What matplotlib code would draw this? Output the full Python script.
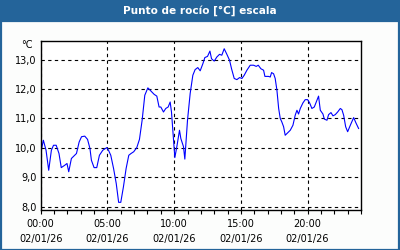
"""Dew point chart for one day."""

import matplotlib

matplotlib.use("Agg")
import matplotlib.pyplot as plt
from matplotlib.patches import Rectangle
from matplotlib.ticker import FuncFormatter, MultipleLocator

TITLE = "Punto de rocío [°C] escala"
UNIT = "°C"
DATE = "02/01/26"
FRAME_BLUE = "#24649a"

# hours since 00:00 and dew point in °C
hours = [
    0.0, 0.2, 0.4, 0.6, 0.8, 0.96, 1.16, 1.37, 1.54, 1.8, 1.97, 2.1, 2.3, 2.55,
    2.68, 2.88, 3.06, 3.3, 3.51, 3.69, 3.8, 4.0, 4.2, 4.4, 4.65, 4.95, 5.08,
    5.25, 5.46, 5.66, 5.84, 6.0, 6.2, 6.4, 6.6, 6.77, 6.97, 7.2, 7.4, 7.6, 7.8,
    8.03, 8.2, 8.5, 8.7, 8.87, 9.0, 9.2, 9.37, 9.55, 9.7, 9.8, 9.95, 10.05,
    10.2, 10.4, 10.5, 10.7, 10.8, 11.0, 11.2, 11.4, 11.57, 11.77, 11.95, 12.15,
    12.3, 12.5, 12.68, 12.8, 13.0, 13.2, 13.4, 13.57, 13.75, 13.95, 14.15, 14.3,
    14.5, 14.7, 14.9, 15.08, 15.25, 15.45, 15.7, 15.95, 16.15, 16.3, 16.5,
    16.7, 16.8, 17.07, 17.2, 17.3, 17.45, 17.57, 17.7, 17.83, 17.95, 18.07,
    18.2, 18.32, 18.5, 18.7, 18.9, 19.07, 19.2, 19.32, 19.45, 19.65, 19.82,
    20.0, 20.15, 20.32, 20.5, 20.7, 20.82, 20.95, 21.15, 21.25, 21.45, 21.57,
    21.75, 21.9, 22.07, 22.25, 22.45, 22.57, 22.7, 22.85, 23.0, 23.2, 23.45,
    23.62, 23.82,
]
dew_point = [
    9.83, 10.26, 9.92, 9.24, 9.92, 10.09, 10.09, 9.81, 9.33, 9.41, 9.47, 9.19,
    9.64, 9.75, 9.81, 10.2, 10.38, 10.4, 10.29, 9.98, 9.58, 9.33, 9.33, 9.75,
    9.92, 10.01, 9.92, 9.75, 9.3, 8.79, 8.15, 8.15, 8.68, 9.3, 9.75, 9.81,
    9.87, 10.01, 10.29, 10.94, 11.79, 12.04, 11.96, 11.82, 11.76, 11.39, 11.39,
    11.22, 11.34, 11.39, 11.56, 11.22, 10.26, 9.67, 10.04, 10.6, 10.32, 10.04,
    9.62, 10.94, 11.85, 12.47, 12.66, 12.73, 12.62, 12.86, 13.07, 13.11, 13.29,
    13.03, 12.95, 13.09, 13.18, 13.15, 13.37, 13.18, 12.98, 12.69, 12.36,
    12.32, 12.39, 12.36, 12.47, 12.64, 12.81, 12.81, 12.77, 12.81, 12.69,
    12.64, 12.43, 12.43, 12.41, 12.56, 12.52, 12.36, 11.96, 11.34, 11.0, 10.88,
    10.72, 10.43, 10.51, 10.6, 10.77, 11.11, 11.28, 11.15, 11.34, 11.53, 11.64,
    11.64, 11.53, 11.34, 11.39, 11.62, 11.76, 11.28, 11.15, 10.98, 10.94,
    11.13, 11.2, 11.09, 11.13, 11.22, 11.34, 11.3, 11.11, 10.72, 10.55, 10.77,
    11.03, 10.85, 10.66,
]
y_ticks = [8, 9, 10, 11, 12, 13]
x_ticks = [0, 5, 10, 15, 20]

fig = plt.figure(figsize=(4, 2.5), dpi=100, facecolor="#fcfdfc")

# blue frame and title bar
fig.patches.append(Rectangle((0, 1 - 21 / 250), 1, 21 / 250, transform=fig.transFigure,
                             facecolor=FRAME_BLUE, edgecolor="none"))
fig.patches.append(Rectangle((0.5 / 400, 0.5 / 250), 398.5 / 400, 1 - 21 / 250,
                             transform=fig.transFigure, facecolor="none",
                             edgecolor=FRAME_BLUE, linewidth=1.6))
fig.text(0.5, 1 - 10.5 / 250, TITLE, color="white", fontsize=7.6, fontweight="bold",
         ha="center", va="center")

ax = fig.add_axes([40.7 / 400, 1 - 209.7 / 250, 320.3 / 400, 169.2 / 250])
ax.set_facecolor("white")
ax.plot(hours, dew_point, color="#0000ff", linewidth=0.8)

ax.set_xlim(0, 24)
ax.set_ylim(7.9, 13.65)
ax.set_xticks(x_ticks)
ax.xaxis.set_minor_locator(MultipleLocator(1))
ax.xaxis.set_major_formatter(FuncFormatter(lambda v, _: f"{int(v):02d}:00\n{DATE}"))
ax.set_yticks(y_ticks)
ax.yaxis.set_major_formatter(FuncFormatter(lambda v, _: f"{v:.1f}".replace(".", ",")))

ax.grid(True, color="black", linestyle=(0, (3, 3)), linewidth=0.8)
ax.tick_params(axis="x", which="both", direction="out", length=3, width=0.8,
               labelsize=7, pad=3.5)
ax.tick_params(axis="y", length=0, labelsize=7, pad=3)
for label in ax.get_xticklabels():
    label.set_linespacing(1.6)
for spine in ax.spines.values():
    spine.set_linewidth(1.0)

ax.text(-0.024, 1 - 4.5 / 169.2, UNIT, transform=ax.transAxes, ha="right", va="center",
        fontsize=7)

fig.savefig("out.png", dpi=100, facecolor=fig.get_facecolor())
